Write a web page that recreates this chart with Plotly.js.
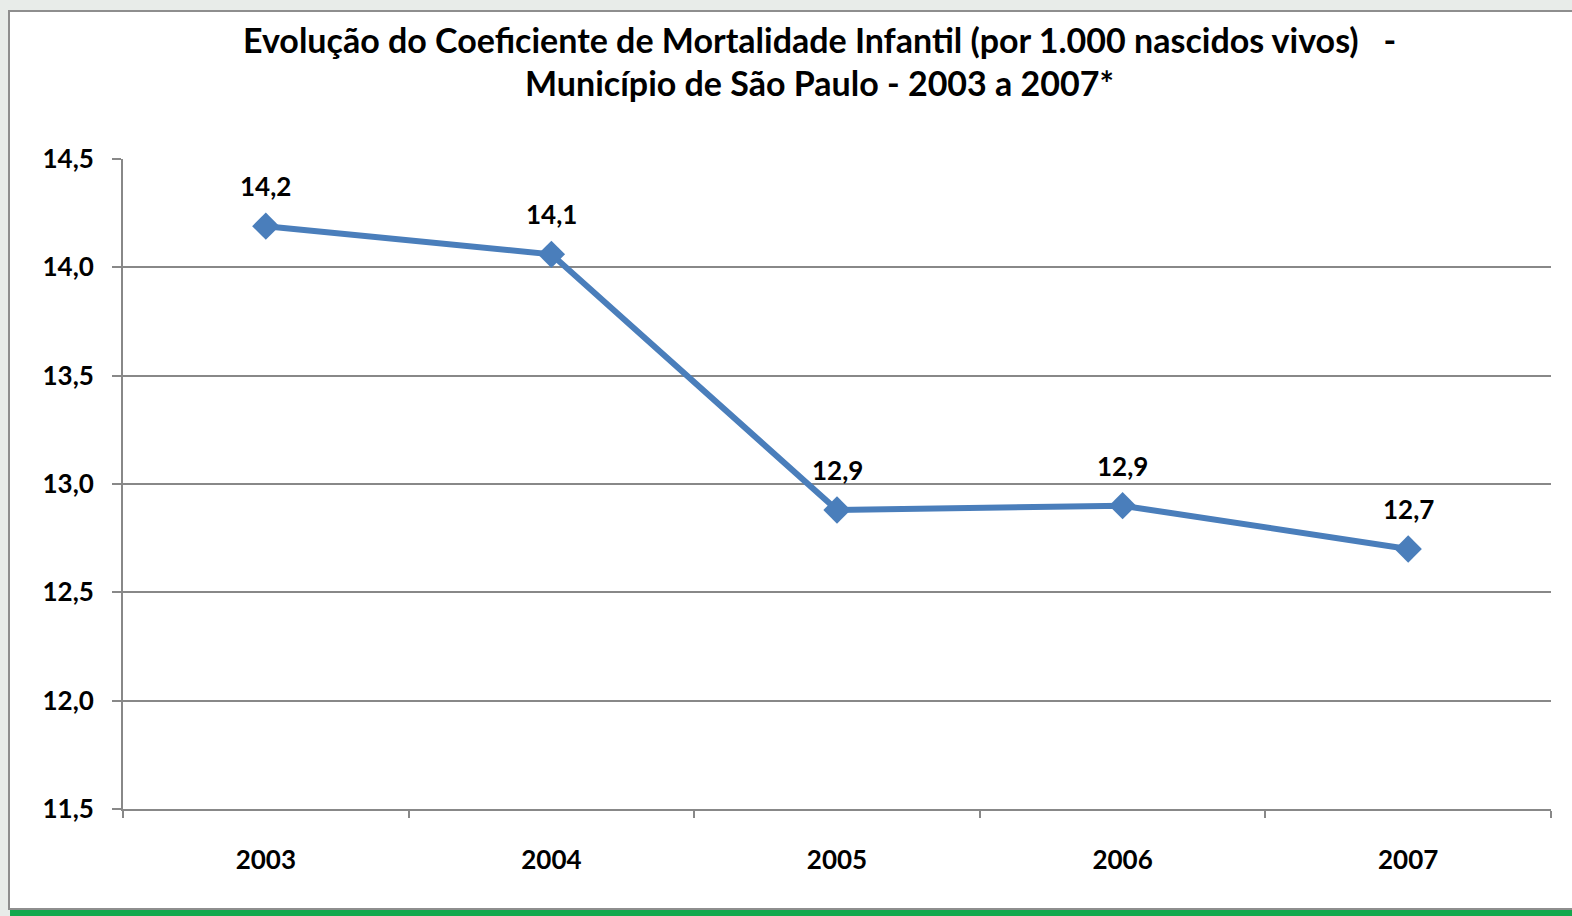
<!DOCTYPE html>
<html><head><meta charset="utf-8">
<script src="https://cdn.plot.ly/plotly-3.0.1.min.js"></script>
<style>
html,body{margin:0;padding:0;background:#e8ece9;width:1572px;height:916px;overflow:hidden;}
#frame{position:absolute;left:8px;top:10px;width:1566px;height:896px;background:#fff;border:2px solid #8e8e8e;border-right:none;}
#green{position:absolute;left:10px;top:910px;width:1562px;height:6px;background:#13a84e;}
#chart{position:absolute;left:10px;top:12px;width:1562px;height:896px;}
</style></head>
<body>
<div id="frame"></div><div id="green"></div>
<div id="chart"></div>
<script>
const years = ['2003','2004','2005','2006','2007'];
const values = [14.19, 14.06, 12.88, 12.90, 12.70];
const labels = ['14,2','14,1','12,9','12,9','12,7'];
const titleLines = ['Evolução do Coeficiente de Mortalidade Infantil (por 1.000 nascidos vivos)   -','Município de São Paulo - 2003 a 2007*'];

const FONT = 'Lato, "Open Sans", sans-serif';
const trace = {
  x: years, y: values, type: 'scatter', mode: 'lines+markers',
  line: {color: '#4a7ebb', width: 6},
  marker: {symbol: 'diamond', size: 21, color: '#4a7ebb'},
  hoverinfo: 'skip', cliponaxis: false
};
const annotations = years.map((yr, i) => ({
  x: i, y: values[i], xref: 'x', yref: 'y', text: labels[i], showarrow: false,
  yshift: 40, font: {family: FONT, size: 26, color: '#000', weight: 'bold'}
}));
annotations.push({xref:'paper', yref:'paper', x:0.488, y:1, yshift:120, xanchor:'center', yanchor:'middle', showarrow:false,
  text: titleLines[0], font:{family:FONT, size:34, color:'#000', weight:'bold'}});
annotations.push({xref:'paper', yref:'paper', x:0.488, y:1, yshift:77, xanchor:'center', yanchor:'middle', showarrow:false,
  text: titleLines[1], font:{family:FONT, size:34, color:'#000', weight:'bold'}});

const layout = {
  width: 1562, height: 896,
  margin: {l: 113, r: 21, t: 147, b: 99},
  paper_bgcolor: 'rgba(0,0,0,0)', plot_bgcolor: '#fff',
  separators: ',.',
  showlegend: false,
  xaxis: {
    type: 'category', range: [-0.5, 4.5],
    showgrid: false, zeroline: false,
    showline: true, linecolor: '#888', linewidth: 2,
    ticks: 'outside', tickson: 'boundaries', ticklen: 7, tickcolor: '#888', tickwidth: 2,
    ticklabelstandoff: 27,
    tickfont: {family: FONT, size: 26, color: '#000', weight: 'bold'}
  },
  yaxis: {
    range: [11.5, 14.5], dtick: 0.5, tick0: 11.5, tickformat: '.1f',
    showgrid: true, gridcolor: '#888', gridwidth: 2, zeroline: false,
    showline: true, linecolor: '#888', linewidth: 2,
    ticks: 'outside', ticklen: 9, tickcolor: '#888', tickwidth: 2,
    ticklabelstandoff: 13,
    tickfont: {family: FONT, size: 26, color: '#000', weight: 'bold'}
  },
  annotations: annotations
};
Plotly.newPlot('chart', [trace], layout, {displayModeBar: false, staticPlot: true});
</script>
</body></html>
